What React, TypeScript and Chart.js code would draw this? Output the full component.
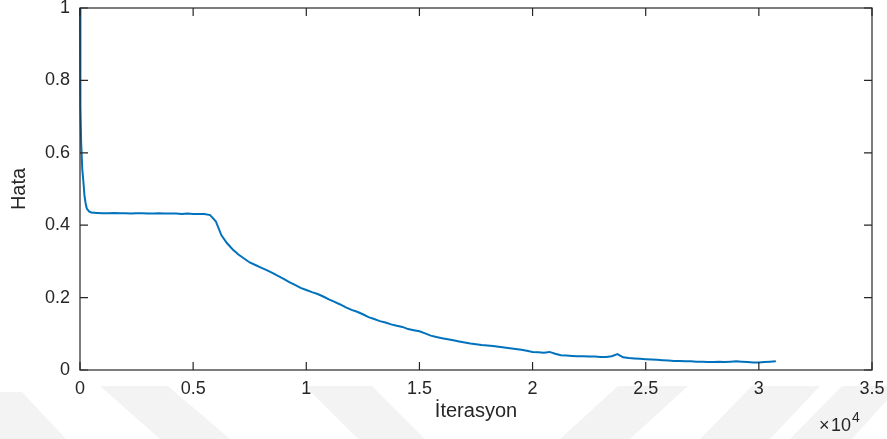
import React, { useEffect, useRef } from "react";
import { Chart, registerables } from "chart.js";

Chart.register(...registerables);

// Iteration counts (x) and error values (y)
const iterations: number[] = [
  0, 10, 25, 50, 100, 150, 200, 250, 300, 400, 500, 750,
  1000, 1250, 1500, 1750, 2000, 2250, 2500, 2750, 3000, 3250, 3500, 3750,
  4000, 4250, 4500, 4750, 5000, 5250, 5500, 5750, 6000, 6250, 6500, 6750,
  7000, 7250, 7500, 7750, 8000, 8250, 8500, 8750, 9000, 9250, 9500, 9750,
  10000, 10250, 10500, 10750, 11000, 11250, 11500, 11750, 12000, 12250, 12500, 12750,
  13000, 13250, 13500, 13750, 14000, 14250, 14500, 14750, 15000, 15250, 15500, 15750,
  16000, 16250, 16500, 16750, 17000, 17250, 17500, 17750, 18000, 18250, 18500, 18750,
  19000, 19250, 19500, 19750, 20000, 20250, 20500, 20750, 21000, 21250, 21500, 21750,
  22000, 22250, 22500, 22750, 23000, 23250, 23500, 23750, 24000, 24250, 24500, 24750,
  25000, 25250, 25500, 25750, 26000, 26250, 26500, 26750, 27000, 27250, 27500, 27750,
  28000, 28250, 28500, 28750, 29000, 29250, 29500, 29750, 30000, 30250, 30500, 30750,
];

const errors: number[] = [
  1.0, 0.86, 0.73, 0.63, 0.555, 0.52, 0.48, 0.46, 0.446, 0.438, 0.435, 0.434,
  0.433, 0.433, 0.434, 0.433, 0.433, 0.432, 0.433, 0.433, 0.432, 0.432, 0.433, 0.432,
  0.432, 0.432, 0.431, 0.432, 0.431, 0.431, 0.431, 0.428, 0.411, 0.372, 0.35, 0.333,
  0.319, 0.308, 0.297, 0.29, 0.283, 0.276, 0.268, 0.26, 0.252, 0.243, 0.235, 0.227,
  0.221, 0.215, 0.21, 0.203, 0.195, 0.188, 0.181, 0.173, 0.166, 0.161, 0.154, 0.146,
  0.141, 0.135, 0.131, 0.126, 0.122, 0.119, 0.113, 0.11, 0.107, 0.101, 0.095, 0.091,
  0.088, 0.085, 0.082, 0.079, 0.076, 0.073, 0.071, 0.069, 0.068, 0.066, 0.064, 0.062,
  0.06, 0.058, 0.056, 0.053, 0.05, 0.049, 0.048, 0.05, 0.045, 0.041, 0.04, 0.039,
  0.038, 0.038, 0.037, 0.037, 0.036, 0.036, 0.038, 0.044, 0.035, 0.033, 0.032, 0.031,
  0.03, 0.029, 0.028, 0.027, 0.026, 0.025, 0.025, 0.024, 0.024, 0.023, 0.023, 0.022,
  0.022, 0.023, 0.022, 0.023, 0.024, 0.023, 0.022, 0.021, 0.021, 0.022, 0.023, 0.024,
];

const xTickValues: number[] = [0, 5000, 10000, 15000, 20000, 25000, 30000, 35000];
const xTickLabels: string[] = ["0", "0.5", "1", "1.5", "2", "2.5", "3", "3.5"];
const yTickValues: number[] = [0, 0.2, 0.4, 0.6, 0.8, 1];
const yTickLabels: string[] = ["0", "0.2", "0.4", "0.6", "0.8", "1"];

const FONT = "'Liberation Sans', Arial, Helvetica, sans-serif";
const TEXT = "#262626";

const watermarkPlugin = {
  id: "watermark",
  beforeDraw(chart: any) {
    const ctx = chart.ctx;
    ctx.save();
    ctx.fillStyle = "#f3f3f3";
    const polys: number[][][] = [
      [[0, 392], [22, 392], [66, 439], [0, 439]],
      [[100, 386], [168, 386], [230, 439], [160, 439]],
      [[305, 386], [372, 386], [425, 439], [358, 439]],
      [[560, 439], [618, 386], [688, 386], [630, 439]],
      [[700, 439], [752, 386], [820, 386], [770, 439]],
      [[790, 439], [842, 386], [887, 386], [887, 400], [852, 439]],
    ];
    for (const p of polys) {
      ctx.beginPath();
      ctx.moveTo(p[0][0], p[0][1]);
      for (let i = 1; i < p.length; i++) ctx.lineTo(p[i][0], p[i][1]);
      ctx.closePath();
      ctx.fill();
    }
    ctx.restore();
  },
};

const boxPlugin = {
  id: "matlabBox",
  afterDraw(chart: any) {
    const { ctx, chartArea } = chart;
    const xs = chart.scales.x;
    const ys = chart.scales.y;
    const { left, right, top, bottom } = chartArea;
    ctx.save();
    ctx.strokeStyle = TEXT;
    ctx.lineWidth = 1.2;
    ctx.strokeRect(left, top, right - left, bottom - top);
    const tl = 8;
    ctx.beginPath();
    for (const v of xTickValues) {
      const px = xs.getPixelForValue(v);
      ctx.moveTo(px, bottom);
      ctx.lineTo(px, bottom - tl);
      ctx.moveTo(px, top);
      ctx.lineTo(px, top + tl);
    }
    for (const v of yTickValues) {
      const py = ys.getPixelForValue(v);
      ctx.moveTo(left, py);
      ctx.lineTo(left + tl, py);
      ctx.moveTo(right, py);
      ctx.lineTo(right - tl, py);
    }
    ctx.stroke();
    // exponent label
    ctx.fillStyle = TEXT;
    ctx.textBaseline = "alphabetic";
    ctx.textAlign = "left";
    ctx.font = `18px ${FONT}`;
    ctx.fillText("\u00d7", 819, 431);
    ctx.fillText("10", 831, 431);
    ctx.font = `14px ${FONT}`;
    ctx.fillText("4", 852, 422);
    ctx.restore();
  },
};

export default function App() {
  const ref = useRef<HTMLCanvasElement | null>(null);
  useEffect(() => {
    if (!ref.current) return;
    const chart = new Chart(ref.current, {
      type: "line",
      data: {
        datasets: [
          {
            data: iterations.map((x, i) => ({ x, y: errors[i] })),
            borderColor: "#0072BD",
            borderWidth: 2,
            pointRadius: 0,
            tension: 0,
            fill: false,
            clip: 4,
          } as any,
        ],
      },
      options: {
        animation: false,
        responsive: false,
        maintainAspectRatio: false,
        layout: { padding: { left: 0, right: 15, top: 8, bottom: 0 } },
        plugins: { legend: { display: false }, tooltip: { enabled: false } },
        scales: {
          x: {
            type: "linear",
            min: 0,
            max: 35000,
            afterBuildTicks: (s: any) => {
              s.ticks = xTickValues.map((v) => ({ value: v }));
            },
            afterFit: (s: any) => {
              s.height = 69;
              s.paddingLeft = 0;
              s.paddingRight = 0;
            },
            grid: { display: false, drawTicks: false },
            border: { display: false },
            ticks: {
              autoSkip: false,
              maxRotation: 0,
              padding: 8,
              color: TEXT,
              font: { family: FONT, size: 18 },
              callback: (v: any) => xTickLabels[xTickValues.indexOf(Number(v))] ?? "",
            },
            title: {
              display: true,
              text: "İterasyon",
              color: TEXT,
              font: { family: FONT, size: 20 },
              padding: { top: 0, bottom: 16 },
            },
          },
          y: {
            type: "linear",
            min: 0,
            max: 1,
            afterBuildTicks: (s: any) => {
              s.ticks = yTickValues.map((v) => ({ value: v }));
            },
            afterFit: (s: any) => {
              s.width = 80;
              s.paddingTop = 0;
              s.paddingBottom = 0;
            },
            grid: { display: false, drawTicks: false },
            border: { display: false },
            ticks: {
              autoSkip: false,
              padding: 10,
              color: TEXT,
              font: { family: FONT, size: 18 },
              callback: (v: any) => {
                const i = yTickValues.findIndex((t) => Math.abs(t - Number(v)) < 1e-9);
                return i >= 0 ? yTickLabels[i] : "";
              },
            },
            title: {
              display: true,
              text: "Hata",
              color: TEXT,
              font: { family: FONT, size: 20 },
              padding: { top: 7, bottom: 0 },
            },
          },
        },
      },
      plugins: [watermarkPlugin, boxPlugin],
    });
    return () => chart.destroy();
  }, []);
  return (
    <div style={{ position: "fixed", left: 0, top: 0, width: 887, height: 439, background: "#fff" }}>
      <canvas ref={ref} width={887} height={439} style={{ width: 887, height: 439, display: "block" }} />
    </div>
  );
}
